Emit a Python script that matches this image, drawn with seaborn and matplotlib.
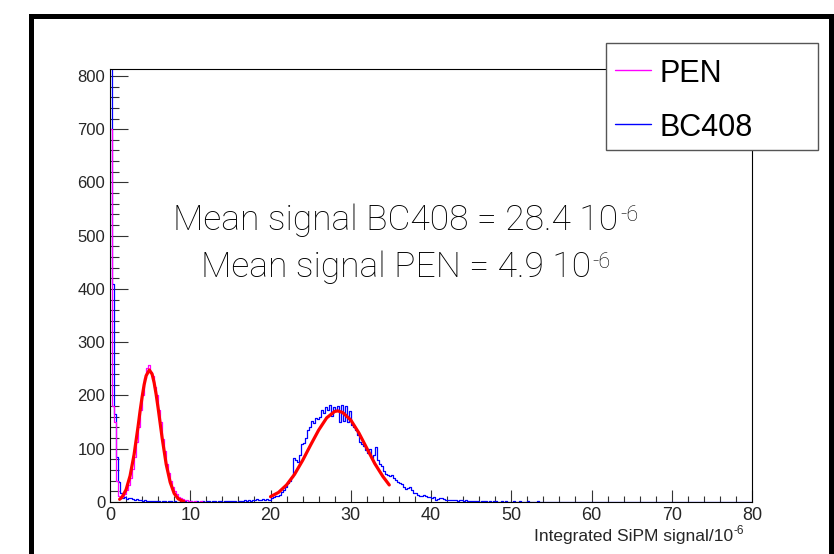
import numpy as np
import pandas as pd
import matplotlib
matplotlib.use('Agg')
import matplotlib.pyplot as plt
import seaborn as sns
from matplotlib.patches import Rectangle
from matplotlib.lines import Line2D
from matplotlib.ticker import MultipleLocator

BIN_WIDTH = 0.25
X_MAX = 80
Y_MAX = 813

# PEN counts, one value per 0.25 bin starting at 0 (rest of the range is empty)
pen_counts = [
    700, 180, 150, 40, 12, 10, 11, 15,          # 0 - 2
    22, 32, 45, 62, 85, 112, 140, 172,          # 2 - 4
    200, 232, 252, 258, 245, 236, 215, 200,     # 4 - 6
    172, 150, 118, 95, 72, 55, 40, 28,          # 6 - 8
    20, 15, 10, 8, 5, 3, 4, 2,                  # 8 - 10
    1, 0, 1, 0, 0, 1, 0, 0,                     # 10 - 12
]

# BC408 counts, one value per 0.25 bin starting at 0
bc408_counts = [
    1200, 410, 165, 85, 38, 17, 8, 10, 6, 8, 7, 5, 4, 5, 3, 3, 2, 3, 2, 1,                  # 0 - 5
    2, 1, 1, 2, 1, 0, 1, 1, 0, 1, 1, 0, 1, 0, 0, 1, 0, 1, 0, 0,                             # 5 - 10
    1, 0, 0, 1, 0, 0, 1, 0, 1, 1, 0, 2, 1, 0, 2, 1, 0, 1, 2, 1,                             # 10 - 15
    1, 2, 1, 0, 2, 1, 2, 3, 2, 3, 2, 4, 3, 5, 3, 4, 5, 3, 6, 4,                             # 15 - 20
    8, 10, 11, 12, 14, 19, 22, 28, 35, 40, 47, 82, 78, 75, 88, 108, 110, 120, 135, 140,     # 20 - 25
    152, 148, 158, 155, 160, 172, 168, 178, 172, 182, 162, 178, 172, 180, 150, 182, 152, 180, 150, 170,  # 25 - 30
    145, 140, 135, 125, 112, 108, 105, 98, 92, 100, 82, 88, 103, 78, 72, 68, 58, 52, 50, 48,  # 30 - 35
    50, 45, 41, 38, 35, 33, 28, 24, 26, 28, 22, 17, 16, 14, 12, 12, 13, 11, 10, 9,          # 35 - 40
    8, 9, 4, 5, 8, 7, 6, 3, 4, 4, 3, 4, 3, 2, 4, 3, 2, 3, 2, 2,                             # 40 - 45
    2, 1, 2, 1, 0, 1, 2, 1, 0, 1, 0, 1, 1, 0, 0, 1, 0, 1, 0, 0,                             # 45 - 50
    0, 1, 0, 0, 1, 0, 0, 0, 1, 0, 0, 0, 0, 1, 0, 0, 0, 0, 0, 0,                             # 50 - 55
]

# gaussian fit curves
pen_fit_x = [1.2, 1.5, 2.0, 2.5, 3.0, 3.5, 3.75, 4.0, 4.25, 4.5, 4.9, 5.25, 5.5, 5.75,
             6.0, 6.25, 6.5, 7.0, 7.5, 8.0, 8.5, 9.0, 9.2]
pen_fit_y = [5, 9, 23, 49, 89, 142, 171, 197, 220, 237, 248, 240, 224, 202,
             176, 148, 120, 71, 37, 16, 6, 2, 1]
bc408_fit_x = [20, 21, 22, 23, 24, 25, 26, 27, 28, 28.4, 29, 30, 31, 32, 33, 34, 34.8]
bc408_fit_y = [10, 18, 32, 52, 78, 107, 135, 158, 170, 171, 168, 154, 130, 101, 72, 48, 32]

mean_bc408 = 28.4
mean_pen = 4.9

sns.set_theme(style="ticks")
plt.rcParams['font.family'] = ['Liberation Sans', 'DejaVu Sans']

W, H = 834, 554
fig = plt.figure(figsize=(W / 100, H / 100), dpi=100)
ax = fig.add_axes([110 / W, 52 / H, 642 / W, 433 / H])

edges = np.arange(0, X_MAX + BIN_WIDTH / 2, BIN_WIDTH)
pen_df = pd.DataFrame({'signal': np.arange(len(pen_counts)) * BIN_WIDTH + BIN_WIDTH / 2,
                       'count': pen_counts})
bc_df = pd.DataFrame({'signal': np.arange(len(bc408_counts)) * BIN_WIDTH + BIN_WIDTH / 2,
                      'count': bc408_counts})

sns.histplot(data=bc_df, x='signal', weights='count', bins=list(edges), element='step',
             fill=False, color='#0000ff', linewidth=0.9, ax=ax)
sns.histplot(data=pen_df, x='signal', weights='count', bins=list(edges[:len(pen_counts) + 1]),
             element='step', fill=False, color='#ff00ff', linewidth=0.9, ax=ax)
sns.lineplot(x=pen_fit_x, y=pen_fit_y, color='#ff0000', linewidth=2.3, sort=False, ax=ax)
sns.lineplot(x=bc408_fit_x, y=bc408_fit_y, color='#ff0000', linewidth=2.3, sort=False, ax=ax)

ax.set_xlim(0, X_MAX)
ax.set_ylim(0, Y_MAX)
ax.set_xlabel('')
ax.set_ylabel('')
ax.xaxis.set_major_locator(MultipleLocator(10))
ax.xaxis.set_minor_locator(MultipleLocator(2))
ax.yaxis.set_major_locator(MultipleLocator(100))
ax.yaxis.set_minor_locator(MultipleLocator(20))
ax.tick_params(which='both', direction='in', top=False, right=False, color='#333333', width=0.8)
ax.tick_params(axis='y', which='major', length=13, pad=3.5, labelsize=12)
ax.tick_params(axis='y', which='minor', length=6.5)
ax.tick_params(axis='x', which='major', length=8.6, pad=3.5, labelsize=13)
ax.tick_params(axis='x', which='minor', length=4.3)
for s in ax.spines.values():
    s.set_linewidth(0.8)
    s.set_color('black')

# x axis title, ROOT style at the right end
xl = fig.text(733 / W, (H - 541) / H, 'Integrated SiPM signal/10', ha='right', va='baseline',
              fontsize=12.5)
ax.annotate('-6', xy=(1, 1), xycoords=xl, fontsize=8.5, ha='left', va='top',
            xytext=(0.5, 3), textcoords='offset points', annotation_clip=False)

# mean values
light = dict(family=['Roboto', 'DejaVu Sans'], weight='light', color='black')
t1 = fig.text(396 / W, (H - 230) / H, f'Mean signal BC408 = {mean_bc408} 10', ha='center',
              va='baseline', fontsize=25.5, **light)
t2 = fig.text(396 / W, (H - 277) / H, f'Mean signal PEN = {mean_pen} 10', ha='center',
              va='baseline', fontsize=25.5, **light)
for t in (t1, t2):
    ax.annotate('-6', xy=(1, 1), xycoords=t, ha='left', va='top', fontsize=15.5,
                xytext=(1, -1), textcoords='offset points', annotation_clip=False, **light)

# legend box drawn on top of the frame
lx0, lx1, ly0, ly1 = 606, 818, 43, 150
fig.patches.append(Rectangle((lx0 / W, (H - ly1) / H), (lx1 - lx0) / W, (ly1 - ly0) / H,
                             transform=fig.transFigure, facecolor='white', edgecolor='#555555',
                             linewidth=1, zorder=5))
for label, color, py in [('PEN', '#ff00ff', 70), ('BC408', '#0000ff', 124)]:
    fig.lines.append(Line2D([615 / W, 651 / W], [(H - py) / H] * 2, transform=fig.transFigure,
                            color=color, linewidth=1, zorder=6))
    fig.text(660 / W, (H - py) / H, label, ha='left', va='center_baseline', fontsize=22,
             color='black', zorder=6)

# thick outer canvas frame
fig.patches.append(Rectangle((30.5 / W, -0.1), 800 / W, (H - 16.5) / H + 0.1,
                             transform=fig.transFigure, facecolor='none', edgecolor='black',
                             linewidth=3.6, zorder=7, clip_on=False))

fig.savefig('out.png', dpi=100)
